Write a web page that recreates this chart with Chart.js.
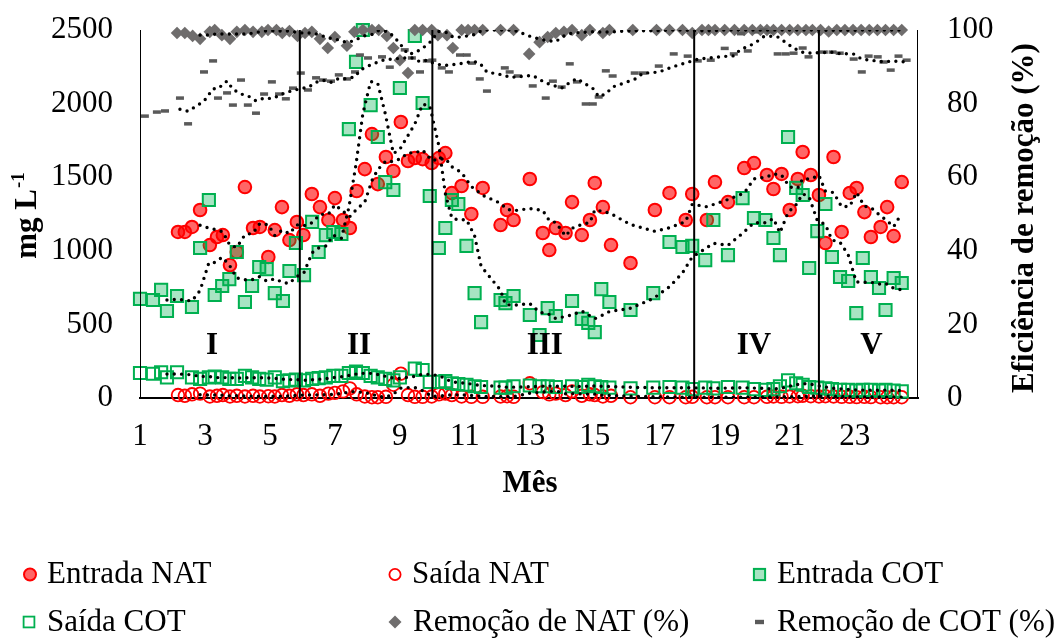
<!DOCTYPE html>
<html>
<head>
<meta charset="utf-8">
<script src="https://cdn.jsdelivr.net/npm/chart.js@4/dist/chart.umd.min.js"></script>
<style>
  html, body { margin: 0; padding: 0; background: #fff; }
  #wrap { position: relative; width: 1064px; height: 638px; }
</style>
</head>
<body>
<div id="wrap"><canvas id="c" width="1064" height="638"></canvas></div>
<script>
// ---- Monthly monitoring data (x = month) ----
const natX = [2.17,2.38,2.6,2.85,3.15,3.37,3.55,3.77,3.98,4.23,4.48,4.69,4.95,5.15,5.37,5.6,5.83,
  6.03,6.29,6.54,6.8,7.0,7.25,7.46,7.67,7.92,8.14,8.32,8.57,8.8,9.03,9.25,9.46,9.7,9.98,10.2,10.4,
  10.6,10.9,11.2,11.55,12.1,12.3,12.5,13.0,13.4,13.6,13.8,14.1,14.3,14.6,14.85,15.0,15.25,15.5,16.1,
  16.85,17.3,17.8,18.0,18.45,18.7,19.1,19.6,19.9,20.3,20.5,20.75,21.0,21.25,21.4,21.65,21.9,22.1,
  22.35,22.6,22.85,23.06,23.3,23.5,23.8,24.0,24.2,24.45];
const natIn = [1128,1128,1162,1277,1039,1094,1107,903,992,1433,1155,1162,958,1141,1297,1073,1196,
  1107,1386,1297,1209,1358,1209,1155,1406,1555,1793,1453,1637,1542,1875,1610,1630,1623,1596,1630,1664,
  1392,1440,1250,1427,1175,1277,1209,1488,1121,1005,1155,1121,1331,1107,1209,1461,1297,1039,917,
  1277,1393,1209,1386,1209,1467,1331,1562,1596,1515,1420,1522,1277,1488,1671,1515,1379,1053,
  1637,1128,1393,1427,1263,1094,1162,1297,1100,1467];
const natOut = [20,15,25,30,10,15,20,10,15,10,15,10,12,10,20,15,25,
  20,25,15,30,35,45,65,25,10,5,5,8,90,165,20,8,8,10,25,30,20,10,8,8,10,12,8,
  100,40,25,30,20,45,15,25,20,10,15,
  5,5,5,5,8,5,5,5,5,5,8,10,8,10,12,15,12,10,12,10,8,8,6,8,6,5,5,5,5];

const cotX = [1.0,1.4,1.65,1.83,2.14,2.6,2.85,3.12,3.3,3.53,3.75,3.98,4.23,4.45,4.67,4.9,5.15,5.4,
  5.6,5.8,6.05,6.3,6.5,6.72,6.95,7.2,7.43,7.65,7.86,8.1,8.32,8.55,8.8,9.0,9.46,9.7,9.92,10.2,10.4,
  10.6,10.8,11.05,11.3,11.5,12.1,12.25,12.5,13.0,13.3,13.55,13.8,14.3,14.6,14.8,15.0,15.2,15.45,
  16.1,16.8,17.3,17.7,18.0,18.4,18.65,19.1,19.55,19.9,20.25,20.5,20.7,20.95,21.2,21.4,21.6,21.85,
  22.1,22.3,22.55,22.8,23.05,23.25,23.5,23.75,23.95,24.2,24.45];
const cotIn = [673,666,734,591,693,618,1019,1345,700,761,808,992,652,761,890,876,713,659,
  863,1053,835,1196,992,1107,1128,1114,1827,2283,2500,1990,1773,1467,1413,2106,2459,2004,1372,1019,1155,
  1345,1318,1033,713,516,666,645,693,564,428,611,557,659,537,510,448,740,652,
  598,713,1060,1026,1033,937,1209,971,1358,1223,1209,1087,971,1773,1427,1379,883,1134,
  1318,958,822,795,577,951,822,747,598,815,781];
const cotOut = [170,165,175,140,175,140,130,140,145,140,130,130,150,140,130,125,140,115,
  120,125,120,130,135,140,150,150,170,180,170,150,140,130,120,140,200,190,110,110,115,
  100,95,90,80,75,70,70,80,85,80,80,75,80,75,90,80,75,70,
  65,70,75,70,60,70,65,75,70,60,55,60,80,120,100,90,75,70,
  65,60,55,55,50,55,55,50,55,50,45];

const remNatX = [2.14,2.38,2.62,2.85,3.15,3.3,3.52,3.77,3.98,4.23,4.48,4.75,4.94,5.2,5.38,5.6,5.85,
  6.08,6.29,6.54,6.78,7.0,7.37,7.6,7.86,8.14,8.35,8.6,8.8,9.0,9.25,9.46,9.7,9.98,10.17,10.45,10.63,
  10.9,11.1,11.3,11.55,12.1,12.5,12.98,13.3,13.55,13.8,14.05,14.3,14.6,14.85,15.25,15.45,16.17,16.9,
  17.3,17.7,18.0,18.3,18.5,18.7,19.0,19.3,19.6,19.85,20.1,20.3,20.5,20.75,21.0,21.25,21.5,21.7,
  21.95,22.2,22.45,22.7,22.95,23.2,23.45,23.7,23.95,24.2,24.45];
const remNat = [99.2,99.2,98.4,97.6,99.5,100,98.6,97.6,99.5,100,99.5,99.5,100,100,99.2,99.7,98.4,
  99.2,99.5,97.6,95.1,98.1,95.7,99.5,100,100,100,98.4,95.1,91.8,88.3,100,100,100,98.6,98.6,95.1,
  100,100,100,100,100,100,93.5,96.7,98.1,99.2,99.5,100,98.6,100,99.2,100,100,100,
  100,100,99.2,100,100,100,100,100,100,100,100,100,100,100,100,100,100,100,
  100,99.6,100,100,100,100,100,100,100,100,100];

const remCotX = [1.15,1.52,1.77,2.23,2.48,2.97,3.25,3.4,3.68,3.86,4.11,4.32,4.57,4.82,5.06,5.28,5.49,
  5.71,5.95,6.17,6.42,6.63,6.88,7.12,7.37,7.62,7.77,8.02,8.45,8.69,9.15,9.37,9.62,9.83,10.0,10.29,
  10.51,10.85,11.06,11.22,11.46,11.68,12.23,12.38,12.63,13.09,13.49,13.71,13.98,14.23,14.45,14.72,
  14.94,15.12,15.34,15.55,16.23,16.48,16.97,17.43,17.86,18.17,18.57,19.0,19.28,19.5,19.71,19.95,
  20.2,20.4,20.63,20.88,21.12,21.4,21.58,22.05,22.32,22.54,22.97,23.22,23.43,23.71,23.89,24.11,
  24.35,24.6];
const remCot = [76.6,77.7,78.0,81.5,74.5,88.6,91.6,81.5,82.9,79.6,86.4,79.6,77.4,82.6,85.9,82.6,81.3,
  84.2,88.3,83.7,87.0,86.4,86.1,87.8,86.7,88.6,93.2,92.4,92.7,89.9,94.6,92.4,88.6,91.6,91.8,89.7,
  88.6,93.2,93.2,91.0,86.7,83.4,89.7,88.6,87.5,84.8,81.5,86.1,84.5,90.8,85.9,79.9,
  79.9,81.8,88.9,87.5,88.3,88.3,90.2,93.5,92.9,91.6,91.8,95.0,93.5,99.0,94.3,99.5,
  100,99.5,93.5,93.5,93.7,95.1,92.7,94.0,94.0,93.7,92.1,88.6,92.9,92.7,91.3,89.1,
  92.9,91.8];

// Phase boundaries (months) and phase labels
const phaseBounds = [1, 5.92, 10.0, 18.06, 21.9, 24.95];
const phaseNames = ['I', 'II', 'III', 'IV', 'V'];
const phaseLabelX = [3.22, 7.74, 13.46, 19.9, 23.52];
const phaseLabelY = 350;

const monthTicks = [1, 3, 5, 7, 9, 11, 13, 15, 17, 19, 21, 23];
const legendNames = ['Entrada NAT', 'Saída NAT', 'Entrada COT', 'Saída COT',
  'Remoção de NAT (%)', 'Remoção de COT (%)'];

const FONT = '"Liberation Serif", "Times New Roman", serif';
const RED = '#ff0000', RED_FILL = 'rgba(255,0,0,0.6)';
const GREEN = '#00b050', GREEN_FILL = 'rgba(0,176,80,0.34)';
const GRAY_D = '#6f6d6d', GRAY_C = '#5a5a5a';

const pts = (xs, ys) => xs.map((x, i) => ({ x, y: ys[i] }));

// Moving-average trendline (period 4), plotted at the last point of each window
function movingAvg(xs, ys, n) {
  const out = [];
  for (let i = n - 1; i < xs.length; i++) {
    let s = 0;
    for (let k = 0; k < n; k++) s += ys[i - k];
    out.push({ x: xs[i], y: s / n });
  }
  return out;
}

const trend = (xs, ys, axis) => ({
  type: 'line', data: movingAvg(xs, ys, 4), yAxisID: axis,
  borderColor: '#000', borderWidth: 3.4, borderDash: [0, 7.3], borderCapStyle: 'round',
  pointRadius: 0, fill: false, tension: 0, showLine: true
});

const boundaryLines = phaseBounds.map(b => ({
  type: 'line', data: [{ x: b, y: 0 }, { x: b, y: 2500 }], yAxisID: 'y',
  borderColor: '#000', borderWidth: 2, pointRadius: 0, fill: false, showLine: true
}));

const datasets = [
  ...boundaryLines,
  trend(natX, natIn, 'y'), trend(natX, natOut, 'y'),
  trend(cotX, cotIn, 'y'), trend(cotX, cotOut, 'y'),
  trend(remNatX, remNat, 'y2'), trend(remCotX, remCot, 'y2'),
  { label: legendNames[5], data: pts(remCotX, remCot), yAxisID: 'y2', pointStyle: 'line',
    pointRadius: 4, borderColor: GRAY_C, backgroundColor: GRAY_C, pointBorderWidth: 3.5, clip: false },
  { label: legendNames[4], data: pts(remNatX, remNat), yAxisID: 'y2', pointStyle: 'rectRot',
    pointRadius: 6.3, borderColor: GRAY_D, backgroundColor: GRAY_D, pointBorderWidth: 0, clip: false },
  { label: legendNames[3], data: pts(cotX, cotOut), yAxisID: 'y', pointStyle: 'rect',
    pointRadius: 8.6, borderColor: GREEN, backgroundColor: 'rgba(0,0,0,0)', pointBorderWidth: 2, clip: false },
  { label: legendNames[2], data: pts(cotX, cotIn), yAxisID: 'y', pointStyle: 'rect',
    pointRadius: 8.6, borderColor: GREEN, backgroundColor: GREEN_FILL, pointBorderWidth: 2, clip: false },
  { label: legendNames[1], data: pts(natX, natOut), yAxisID: 'y', pointStyle: 'circle',
    pointRadius: 6.3, borderColor: RED, backgroundColor: 'rgba(0,0,0,0)', pointBorderWidth: 1.8, clip: false },
  { label: legendNames[0], data: pts(natX, natIn), yAxisID: 'y', pointStyle: 'circle',
    pointRadius: 6.3, borderColor: RED, backgroundColor: RED_FILL, pointBorderWidth: 2, clip: false }
];

// Draws phase labels, axis titles and the legend
const decorations = {
  id: 'decorations',
  afterDatasetsDraw(chart) {
    const ctx = chart.ctx, xs = chart.scales.x, ys = chart.scales.y;
    ctx.save();
    ctx.fillStyle = '#000';
    ctx.font = 'bold 31px ' + FONT;
    ctx.textAlign = 'center';
    ctx.textBaseline = 'middle';
    phaseNames.forEach((n, i) => {
      ctx.fillText(n, xs.getPixelForValue(phaseLabelX[i]), ys.getPixelForValue(phaseLabelY));
    });
    ctx.restore();
  },
  afterDraw(chart) {
    const ctx = chart.ctx, area = chart.chartArea;
    ctx.save();
    ctx.fillStyle = '#000';
    // x title
    ctx.font = 'bold 31px ' + FONT;
    ctx.textAlign = 'center';
    ctx.textBaseline = 'alphabetic';
    ctx.fillText('Mês', (area.left + area.right) / 2 + 1, 492);

    // left title: mg L-1 (superscript)
    ctx.save();
    ctx.translate(36, 216);
    ctx.rotate(-Math.PI / 2);
    ctx.textAlign = 'left';
    ctx.font = 'bold 31px ' + FONT;
    const base = 'mg L';
    const wBase = ctx.measureText(base).width;
    ctx.font = 'bold 19px ' + FONT;
    const wSup = ctx.measureText('-1').width;
    const start = -(wBase + wSup) / 2;
    ctx.font = 'bold 31px ' + FONT;
    ctx.fillText(base, start, 0);
    ctx.font = 'bold 19px ' + FONT;
    ctx.fillText('-1', start + wBase + 1, -12);
    ctx.restore();

    // right title
    ctx.save();
    ctx.translate(1033, 218);
    ctx.rotate(-Math.PI / 2);
    ctx.textAlign = 'center';
    ctx.font = 'bold 31px ' + FONT;
    ctx.fillText('Eficiência de remoção (%)', 0, 0);
    ctx.restore();

    // legend
    const items = [
      { t: legendNames[0], mx: 30, tx: 47, row: 0, draw: (x, y) => circle(x, y, 6, RED_FILL, RED, 2) },
      { t: legendNames[1], mx: 395, tx: 412, row: 0, draw: (x, y) => circle(x, y, 5.6, null, RED, 1.8) },
      { t: legendNames[2], mx: 759.5, tx: 777, row: 0, draw: (x, y) => square(x, y, 5.6, GREEN_FILL, GREEN, 2) },
      { t: legendNames[3], mx: 29, tx: 47, row: 1, draw: (x, y) => square(x, y, 5.4, null, GREEN, 1.8) },
      { t: legendNames[4], mx: 395, tx: 413, row: 1, draw: (x, y) => diamond(x, y, 6.5, GRAY_D) },
      { t: legendNames[5], mx: 759.5, tx: 777, row: 1, draw: (x, y) => { ctx.fillStyle = GRAY_C; ctx.fillRect(x - 4.5, y - 2.2, 9, 4.4); } }
    ];
    function circle(x, y, r, fill, stroke, lw) {
      ctx.beginPath(); ctx.arc(x, y, r, 0, Math.PI * 2);
      if (fill) { ctx.fillStyle = fill; ctx.fill(); }
      ctx.strokeStyle = stroke; ctx.lineWidth = lw; ctx.stroke();
    }
    function square(x, y, h, fill, stroke, lw) {
      if (fill) { ctx.fillStyle = fill; ctx.fillRect(x - h, y - h, 2 * h, 2 * h); }
      ctx.strokeStyle = stroke; ctx.lineWidth = lw; ctx.strokeRect(x - h, y - h, 2 * h, 2 * h);
    }
    function diamond(x, y, r, fill) {
      ctx.beginPath(); ctx.moveTo(x, y - r); ctx.lineTo(x + r, y); ctx.lineTo(x, y + r);
      ctx.lineTo(x - r, y); ctx.closePath(); ctx.fillStyle = fill; ctx.fill();
    }
    const rowBase = [583, 631];
    const rowMid = [574.5, 622];
    items.forEach(it => {
      it.draw(it.mx, rowMid[it.row]);
      ctx.fillStyle = '#000';
      ctx.font = '31px ' + FONT;
      ctx.textAlign = 'left';
      ctx.textBaseline = 'alphabetic';
      ctx.fillText(it.t, it.tx, rowBase[it.row]);
    });
    ctx.restore();
  }
};

// fixed axis box sizes so the plot area spans x 140..918, y 30..398
const fixVertical = w => s => { s.width = w; s.paddingTop = 0; s.paddingBottom = 0; };

new Chart(document.getElementById('c'), {
  type: 'scatter',
  data: { datasets },
  options: {
    responsive: false,
    devicePixelRatio: 1,
    animation: false,
    layout: { padding: { top: 30, bottom: 180, left: 0, right: 0 } },
    plugins: { legend: { display: false }, tooltip: { enabled: false } },
    scales: {
      x: {
        type: 'linear', min: 1, max: 24.95,
        grid: { display: false, drawTicks: false, tickLength: 0 },
        border: { display: true, color: '#000', width: 2 },
        ticks: { color: '#000', font: { family: FONT, size: 31 }, padding: 20, maxRotation: 0,
                 callback: v => String(v) },
        afterBuildTicks: s => { s.ticks = monthTicks.map(v => ({ value: v })); },
        afterFit: s => { s.height = 60; s.paddingLeft = 0; s.paddingRight = 0; }
      },
      y: {
        position: 'left', min: 0, max: 2500,
        grid: { display: false, drawTicks: false, tickLength: 0 },
        border: { display: false },
        ticks: { stepSize: 500, color: '#000', font: { family: FONT, size: 31 }, padding: 27,
                 callback: v => String(v) },
        afterFit: fixVertical(140)
      },
      y2: {
        position: 'right', min: 0, max: 100,
        grid: { display: false, drawTicks: false, tickLength: 0 },
        border: { display: false },
        ticks: { stepSize: 20, color: '#000', font: { family: FONT, size: 31 }, padding: 29,
                 callback: v => String(v) },
        afterFit: fixVertical(146)
      }
    }
  },
  plugins: [decorations]
});
</script>
</body>
</html>
